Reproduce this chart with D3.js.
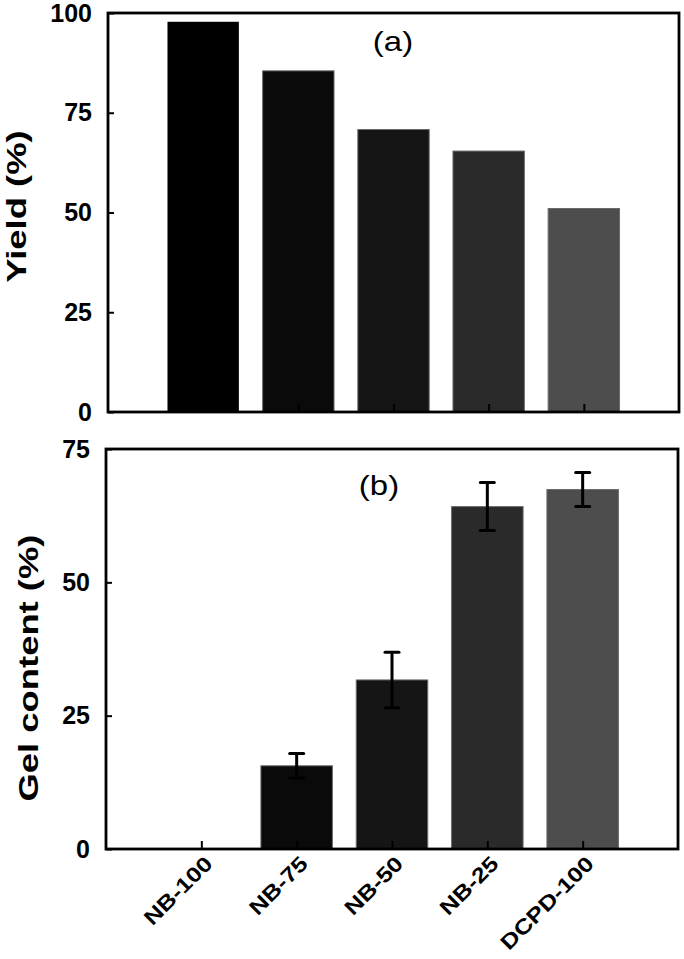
<!DOCTYPE html>
<html>
<head>
<meta charset="utf-8">
<script src="https://cdn.jsdelivr.net/npm/d3@7"></script>
<style>
  html, body { margin: 0; padding: 0; background: #fff; }
  svg { display: block; }
  text { font-family: "Liberation Sans", Arial, sans-serif; }
</style>
</head>
<body>
<svg id="chart" width="684" height="959"></svg>
<script>
const categories = ["NB-100", "NB-75", "NB-50", "NB-25", "DCPD-100"];
const yieldValues = [97.8, 85.5, 70.8, 65.4, 51.0];
const gelValues = [0, 15.6, 31.7, 64.2, 67.4];
const gelErrors = [0, 2.3, 5.2, 4.5, 3.2];
const barColors = ["#000000", "#0a0a0a", "#151515", "#2a2a2a", "#4d4d4d"];
const yieldTicks = [0, 25, 50, 75, 100];
const gelTicks = [0, 25, 50, 75];

const svg = d3.select("#chart");

function panel(opts) {
  const g = svg.append("g");
  const x = d3.scaleLinear().domain([0, categories.length + 1]).range([opts.left, opts.right]);
  const y = d3.scaleLinear().domain([0, opts.max]).range([opts.bottom, opts.top]);
  const bw = x(0.75) - x(0);

  // bars
  g.selectAll("rect.bar")
    .data(opts.values.map((v, i) => ({ v, i })).filter(d => d.v > 0))
    .enter().append("rect")
    .attr("class", "bar")
    .attr("x", d => x(d.i + 1) - bw / 2)
    .attr("width", bw)
    .attr("y", d => y(d.v))
    .attr("height", d => y(0) - y(d.v))
    .attr("fill", d => barColors[d.i])
    .attr("stroke", d => d.i === 0 ? "none" : "#6a6a6a")
    .attr("stroke-width", 1);

  // error bars
  if (opts.errors) {
    const eb = opts.values.map((v, i) => ({ v, e: opts.errors[i], i })).filter(d => d.e > 0);
    const cap = 7;
    const eg = g.append("g").attr("stroke", "#000").attr("stroke-width", 3).attr("stroke-linecap", "round");
    eb.forEach(d => {
      const cx = x(d.i + 1);
      eg.append("line").attr("x1", cx).attr("x2", cx).attr("y1", y(d.v + d.e)).attr("y2", y(d.v - d.e));
      eg.append("line").attr("x1", cx - cap).attr("x2", cx + cap).attr("y1", y(d.v + d.e)).attr("y2", y(d.v + d.e));
      eg.append("line").attr("x1", cx - cap).attr("x2", cx + cap).attr("y1", y(d.v - d.e)).attr("y2", y(d.v - d.e));
    });
  }

  // y axis (ticks inward)
  const yAxis = d3.axisLeft(y).tickValues(opts.ticks).tickSize(-6).tickPadding(16).tickFormat(d3.format("d"));
  const ya = g.append("g").attr("transform", `translate(${opts.left},0)`).call(yAxis);
  ya.select(".domain").remove();
  ya.selectAll(".tick line").attr("stroke", "#000").attr("stroke-width", 2);
  ya.selectAll(".tick text")
    .attr("font-size", 25).attr("font-weight", "bold").attr("fill", "#000")
    .attr("font-family", "'Liberation Sans', Arial, sans-serif");

  // x axis ticks (inward)
  const xAxis = d3.axisBottom(x).tickValues(d3.range(1, categories.length + 1)).tickSize(-8).tickFormat("");
  const xa = g.append("g").attr("transform", `translate(0,${opts.bottom})`).call(xAxis);
  xa.select(".domain").remove();
  xa.selectAll(".tick line").attr("stroke", "#000").attr("stroke-width", 2);

  if (opts.labels) {
    xa.selectAll(".tick").append("text")
      .attr("text-anchor", "end")
      .attr("fill", "#000")
      .attr("font-size", 21).attr("font-weight", "bold")
      .attr("font-family", "'Liberation Sans', Arial, sans-serif")
      .attr("transform", "translate(12,16) rotate(-45) scale(1.2,1)")
      .text((d, i) => categories[i]);
  }

  // frame
  g.append("rect")
    .attr("x", opts.left).attr("y", opts.top)
    .attr("width", opts.right - opts.left).attr("height", opts.bottom - opts.top)
    .attr("fill", "none").attr("stroke", "#000").attr("stroke-width", 2.8);

  // y title
  g.append("text")
    .attr("text-anchor", "middle")
    .attr("font-size", 28).attr("font-weight", "bold").attr("fill", "#000")
    .attr("transform", `translate(${opts.titleX},${(opts.top + opts.bottom) / 2 - opts.titleShift}) rotate(-90) scale(1.3,1)`)
    .text(opts.title);

  // panel label
  g.append("text")
    .attr("text-anchor", "middle")
    .attr("dominant-baseline", "central")
    .attr("font-size", 27).attr("fill", "#000")
    .attr("transform", `translate(${opts.tagX},${opts.tagY}) scale(1.22,1)`)
    .text(opts.tag);
}

panel({ left: 108, right: 679, top: 13, bottom: 412, max: 100, values: yieldValues, ticks: yieldTicks,
  title: "Yield (%)", titleX: 26, titleShift: 6, tag: "(a)", tagX: 393, tagY: 42 });
panel({ left: 106, right: 678, top: 449, bottom: 849, max: 75, values: gelValues, errors: gelErrors, ticks: gelTicks,
  labels: true, title: "Gel content (%)", titleX: 38, titleShift: -19, tag: "(b)", tagX: 379, tagY: 486 });
</script>
</body>
</html>
